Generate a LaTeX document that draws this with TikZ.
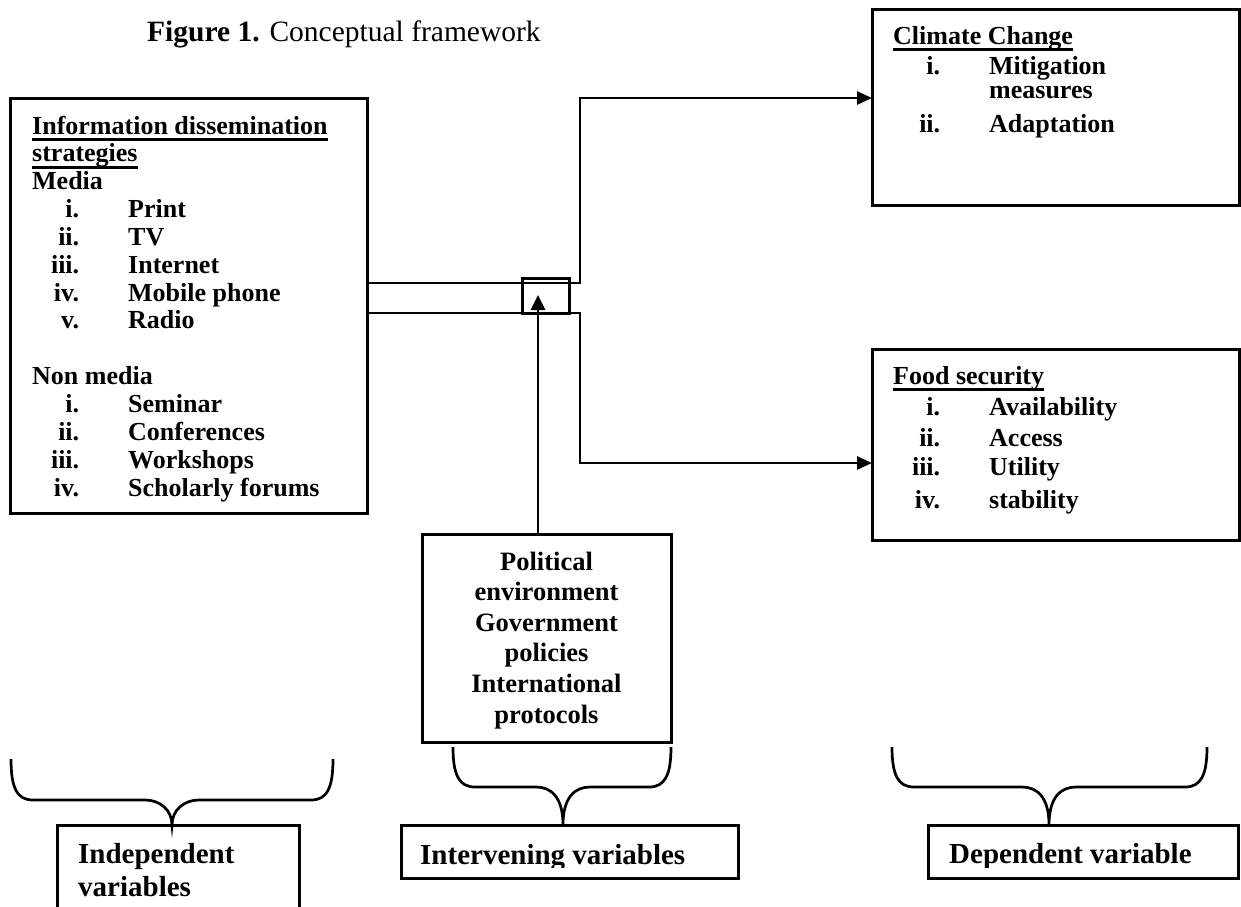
\documentclass[tikz,border=0pt]{standalone}
\usepackage{fontspec}
\setmainfont{Liberation Serif}
\usetikzlibrary{arrows.meta,fit}
\newcommand\cful[1]{\setbox0=\hbox{#1}\rlap{\rule[-7pt]{\wd0}{2.6pt}}\box0}
\newcommand\cfit[2]{\makebox[47pt][r]{#1}\hspace{49pt}#2}
\newcommand\cfbrace[5]{%
  \draw[bracestyle] (#1,#3) .. controls (#1,{#4-12}) and ({#1+6},#4) .. ({#1+22},#4)
    -- ({#5-27},#4) .. controls ({#5-12},#4) and (#5,{#4+10}) .. (#5,825)
    .. controls (#5,{#4+10}) and ({#5+12},#4) .. ({#5+27},#4)
    -- ({#2-22},#4) .. controls ({#2-6},#4) and (#2,{#4-12}) .. (#2,#3);}
\tikzset{
  box/.style={draw, line width=3pt, inner sep=0pt},
  conn/.style={draw, line width=2.7pt},
  arr/.style={conn, -{Triangle[length=15pt,width=13pt]}},
  bracestyle/.style={draw, line width=2.7pt},
  txt/.style={inner sep=0pt, font=\fontsize{26}{27.85}\selectfont\bfseries},
  bigtxt/.style={inner sep=0pt, font=\fontsize{29}{33}\selectfont\bfseries},
}
\begin{document}
\begin{tikzpicture}[x=1pt,y=-1pt]
\useasboundingbox (0,0) rectangle (1241,906);
\clip (0,0) rectangle (1241,906);
\fill[white] (0,0) rectangle (1241,906);

% title
\node[inner sep=0pt, anchor=base west, font=\fontsize{29.5}{33}\selectfont] (title) at (147,41)
  {\textbf{Figure 1.} Conceptual framework};

% left box
\node[box, fit={(10,98) (367,513)}] (info) {};
\node[txt, anchor=base west] (infotxt) at (32,134) {\begin{tabular}[t]{@{}l@{}}
\cful{Information dissemination}\\
\cful{strategies}\\
Media\\
\cfit{i.}{Print}\\
\cfit{ii.}{TV}\\
\cfit{iii.}{Internet}\\
\cfit{iv.}{Mobile phone}\\
\cfit{v.}{Radio}\\
\\
Non media\\
\cfit{i.}{Seminar}\\
\cfit{ii.}{Conferences}\\
\cfit{iii.}{Workshops}\\
\cfit{iv.}{Scholarly forums}
\end{tabular}};

% climate box
\node[box, fit={(872,9) (1239,205)}] (climate) {};
\node[txt, anchor=base west] (climatetxt) at (893,44) {\begin{tabular}[t]{@{}l@{}}
\cful{Climate Change}\\[2.2pt]
\cfit{i.}{Mitigation}\\[-3.8pt]
\cfit{}{measures}\\[6.2pt]
\cfit{ii.}{Adaptation}
\end{tabular}};

% food box
\node[box, fit={(872,349) (1239,540)}] (food) {};
\node[txt, anchor=base west, font=\fontsize{26}{31}\selectfont\bfseries] (foodtxt) at (893,384) {\begin{tabular}[t]{@{}l@{}}
\cful{Food security}\\
\cfit{i.}{Availability}\\
\cfit{ii.}{Access}\\[-2pt]
\cfit{iii.}{Utility}\\[2pt]
\cfit{iv.}{stability}
\end{tabular}};

% intervening factors box
\node[box, fit={(422,534) (671,742)}] (interv) {};
\node[inner sep=0pt, anchor=base, font=\fontsize{26.5}{30.6}\selectfont\bfseries] (intervtxt) at (546.5,570) {\begin{tabular}[t]{@{}c@{}}
Political\\ environment\\ Government\\ policies\\ International\\ protocols
\end{tabular}};

% small junction box
\node[box, fit={(522,278) (569,313)}] (knot) {};

% connectors
\coordinate (jU) at (580,283);
\coordinate (jD) at (580,313);
\coordinate (cIn) at (872,98);
\coordinate (fIn) at (872,463);
\coordinate (aTip) at (538,295);
\draw[arr] (info.east |- jU) -- (jU) |- (cIn);
\draw[arr] (info.east |- jD) -- (jD) |- (fIn);
\draw[conn, -{Triangle[length=15pt,width=14pt]}] (aTip |- interv.north) -- (aTip);

% braces
\cfbrace{11}{333}{759}{800}{172}
\cfbrace{453}{671}{747}{787}{563}
\cfbrace{892}{1207}{747}{787}{1049}

% bottom label boxes
\node[box, fit={(57,825) (299,940)}] (indep) {};
\node[bigtxt, anchor=base west] (indeptxt) at (78,863) {\begin{tabular}[t]{@{}l@{}}Independent\\ variables\end{tabular}};

\node[box, fit={(401,825) (738,878)}] (intervlab) {};
\begin{scope}
\clip (401,825) rectangle (738,867);
\node[bigtxt, anchor=base west] (intervlabtxt) at (420,864) {Intervening variables};
\end{scope}

\node[box, fit={(928,825) (1238,878)}] (dep) {};
\begin{scope}
\clip (928,825) rectangle (1238,867);
\node[bigtxt, anchor=base west] (deptxt) at (949,863) {Dependent variable};
\end{scope}
\end{tikzpicture}
\end{document}
